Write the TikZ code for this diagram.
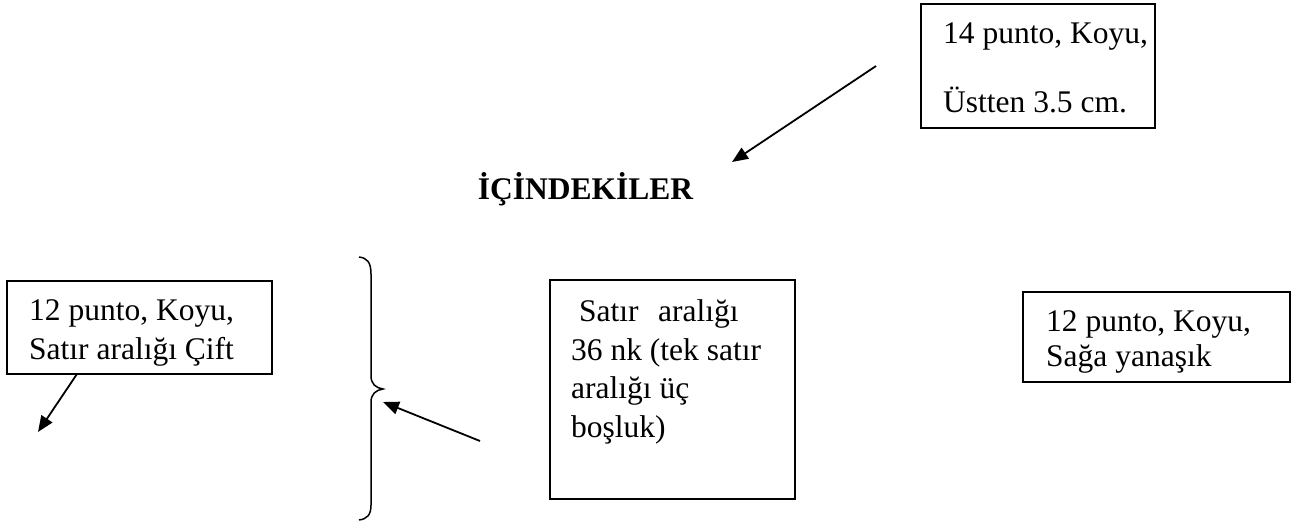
\documentclass[tikz,border=0pt]{standalone}
\usepackage{fontspec}
\setmainfont{Liberation Serif}
\usetikzlibrary{arrows.meta}
\begin{document}
\begin{tikzpicture}[x=1pt,y=-1pt,
  box/.style={draw, line width=1.2pt, inner sep=0pt},
  txt/.style={anchor=base west, inner sep=0pt, font=\fontsize{31.5}{38}\selectfont},
  arr/.style={line width=1.8pt, -{Triangle[length=16pt,width=13pt]}}]
\useasboundingbox (0,0) rectangle (1302,525);
% boxes
\node[box, minimum width=234pt, minimum height=124pt] (topbox) at (1038,66) {};
\node[box, minimum width=265pt, minimum height=93pt] (leftbox) at (139.5,327.5) {};
\node[box, minimum width=245pt, minimum height=219pt] (midbox) at (672.5,389.5) {};
\node[box, minimum width=267pt, minimum height=90pt] (rightbox) at (1156.5,337) {};
% texts
\node[txt] (t1a) at (943,43) {14 punto, Koyu,};
\node[txt] (t1b) at (943,112) {Üstten 3.5 cm.};
\node[anchor=base, inner sep=0pt, font=\fontsize{31.5}{36}\selectfont\bfseries] (title) at (585.5,199) {İÇİNDEKİLER};
\node[txt] (t2a) at (29,320) {12 punto, Koyu,};
\node[txt] (t2b) at (29,359) {Satır aralığı Çift};
\node[txt] (t3a) at (579,321) {Satır\hspace{19.5pt}aralığı};
\node[txt] (t3b) at (571,360) {36 nk (tek satır};
\node[txt] (t3c) at (571,398) {aralığı üç};
\node[txt] (t3d) at (571,437) {boşluk)};
\node[txt] (t4a) at (1046,331) {12 punto, Koyu,};
\node[txt] (t4b) at (1046,366) {Sağa yanaşık};
% brace
\draw[line width=1.5pt] (359,257) .. controls (367,258) and (371,262) .. (371,274)
  -- (371,376) .. controls (371,384) and (376,388) .. (383,389)
  .. controls (376,390) and (371,394) .. (371,402)
  -- (371,505) .. controls (371,515) and (367,519) .. (359,520);
% arrows
\coordinate (a1s) at (876,66);
\coordinate (a1e) at (732,162);
\coordinate (a2s) at (77,374);
\coordinate (a2e) at (38,432);
\coordinate (a3s) at (480,441);
\coordinate (a3e) at (383,402);
\draw[arr] (a1s) -- (a1e);
\draw[arr] (a2s) -- (a2e);
\draw[arr] (a3s) -- (a3e);
\end{tikzpicture}
\end{document}
